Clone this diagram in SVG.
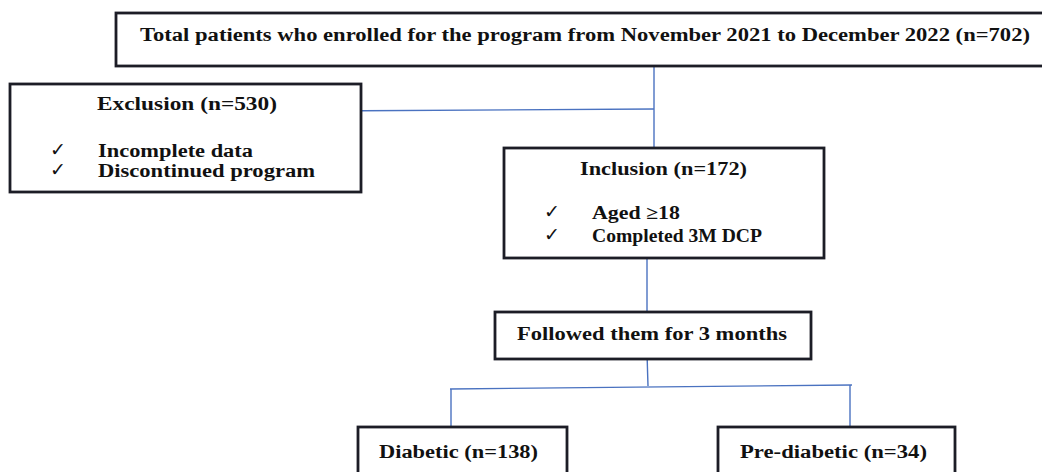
<svg xmlns="http://www.w3.org/2000/svg" width="1042" height="472" viewBox="0 0 1042 472">
<style>
.box{fill:#fff;stroke:#1c1d26;stroke-width:2.8}
.t{font-family:"Liberation Serif","Times New Roman",serif;font-weight:bold;font-size:18.5px;fill:#111}
.ck{font-family:"DejaVu Sans",sans-serif;font-size:19px;fill:#111}
.c{fill:none;stroke:#4a72c0;stroke-width:1.4}
</style>
<rect width="1042" height="472" fill="#fff"/>
<g id="connectors">
<path class="c" d="M654 66 V147"/>
<path class="c" d="M362 110.7 L654 109"/>
<path class="c" d="M647 258 V312"/>
<path class="c" d="M647 353 L648 386"/>
<path class="c" d="M450 389 L852 385"/>
<path class="c" d="M451 389 V427"/>
<path class="c" d="M850 385 V428"/>
</g>
<g id="total">
<rect class="box" x="116" y="13" width="940" height="53"/>
<text class="t" x="140" y="41" textLength="890" lengthAdjust="spacingAndGlyphs">Total patients who enrolled for the program from November 2021 to December 2022 (n=702)</text>
</g>
<g id="exclusion">
<rect class="box" x="10" y="84" width="351" height="108"/>
<text class="t" x="97" y="110" textLength="180" lengthAdjust="spacingAndGlyphs">Exclusion (n=530)</text>
<text class="ck" x="50" y="156">✓</text>
<text class="t" x="98" y="157" textLength="155" lengthAdjust="spacingAndGlyphs">Incomplete data</text>
<text class="ck" x="50" y="176">✓</text>
<text class="t" x="98" y="177" textLength="217" lengthAdjust="spacingAndGlyphs">Discontinued program</text>
</g>
<g id="inclusion">
<rect class="box" x="504" y="148" width="320" height="110"/>
<text class="t" x="580" y="175" textLength="167" lengthAdjust="spacingAndGlyphs">Inclusion (n=172)</text>
<text class="ck" x="544" y="218">✓</text>
<text class="t" x="592" y="219" textLength="88" lengthAdjust="spacingAndGlyphs">Aged ≥18</text>
<text class="ck" x="544" y="241">✓</text>
<text class="t" x="592" y="242" textLength="170" lengthAdjust="spacingAndGlyphs">Completed 3M DCP</text>
</g>
<g id="followed">
<rect class="box" x="495" y="312" width="316" height="47"/>
<text class="t" x="517" y="340" textLength="270" lengthAdjust="spacingAndGlyphs">Followed them for 3 months</text>
</g>
<g id="diabetic">
<rect class="box" x="358" y="427" width="209" height="60"/>
<text class="t" x="379" y="458" textLength="159" lengthAdjust="spacingAndGlyphs">Diabetic (n=138)</text>
</g>
<g id="prediabetic">
<rect class="box" x="718" y="427" width="237" height="60"/>
<text class="t" x="740" y="458" textLength="187" lengthAdjust="spacingAndGlyphs">Pre-diabetic (n=34)</text>
</g>
</svg>
